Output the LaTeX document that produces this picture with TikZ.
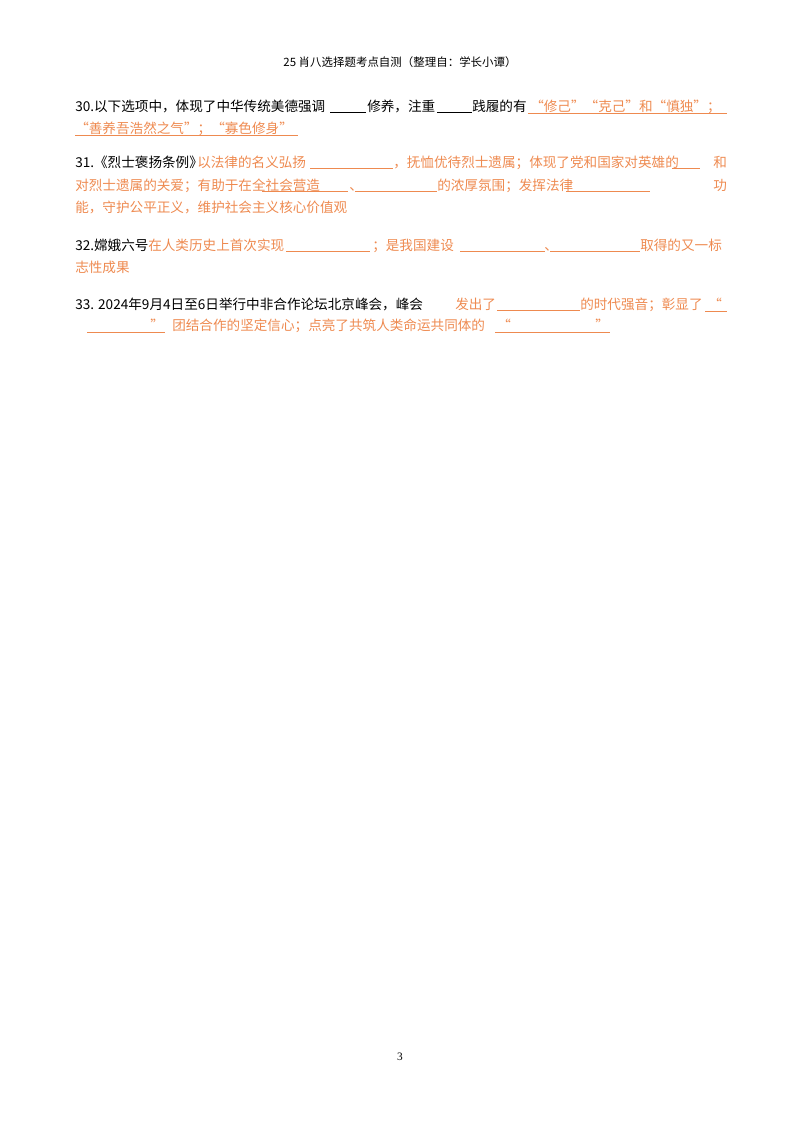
\documentclass[tikz,border=0pt]{standalone}
\usepackage{fontspec}
\setmainfont{Liberation Serif}
\newfontfamily\cjk{Noto Sans CJK SC}
\definecolor{ans}{HTML}{EE8A50}
\begin{document}
\begin{tikzpicture}[x=0.75pt,y=-0.75pt,
  t/.style={anchor=base west,inner sep=0pt,font=\fontsize{10.2}{12}\cjk},
  o/.style={t,text=ans},
  hd/.style={anchor=base,inner sep=0pt,font=\fontsize{8.6}{10}\cjk},
  bl/.style={line width=0.6pt,black},
  ob/.style={line width=0.6pt,ans}]
\useasboundingbox (0,0) rectangle (800,1132);
\node[hd] (h) at (400,66) {25 肖八选择题考点自测（整理自：学长小谭）};
% 30
\node[t] (a1) at (75,111) {30.以下选项中，体现了中华传统美德强调};
\draw[bl] (330,112) -- (366,112);
\node[t] (a2) at (367,111) {修养，注重};
\draw[bl] (437,112) -- (472,112);
\node[t] (a3) at (472,111) {践履的有};
\node[o] (a4) at (530,111) {“修己”“克己”和“慎独”；};
\draw[ob] (528,113) -- (727,113);
\node[o] (a5) at (75,133) {“善养吾浩然之气”；“寡色修身”};
\draw[ob] (75,135) -- (298,135);
% 31
\node[t] (b1) at (75,167) {31.《烈士褒扬条例》};
\node[o] (b2) at (197,167) {以法律的名义弘扬};
\draw[ob] (310,168) -- (393,168);
\node[o] (b3) at (393,167) {，抚恤优待烈士遗属；体现了党和国家对英雄的};
\draw[ob] (672,168) -- (700,168);
\node[o] (b4) at (713,167) {和};
\node[o] (b5) at (75,190) {对烈士遗属的关爱；有助于在全社会营造};
\draw[ob] (262,191) -- (348,191);
\node[o] (b6) at (349,190) {、};
\draw[ob] (355,191) -- (437,191);
\node[o] (b7) at (437,190) {的浓厚氛围；发挥法律};
\draw[ob] (566,191) -- (650,191);
\node[o] (b8) at (713,190) {功};
\node[o] (b9) at (75,212) {能，守护公平正义，维护社会主义核心价值观};
% 32
\node[t] (c1) at (75,250) {32.嫦娥六号};
\node[o] (c2) at (148,250) {在人类历史上首次实现};
\draw[ob] (286,251) -- (370,251);
\node[o] (c3) at (372,250) {；是我国建设};
\draw[ob] (460,251) -- (545,251);
\node[o] (c4) at (544,250) {、};
\draw[ob] (550,251) -- (640,251);
\node[o] (c5) at (640,250) {取得的又一标};
\node[o] (c6) at (75,272) {志性成果};
% 33
\node[t] (d1) at (75,309) {33. 2024年9月4日至6日举行中非合作论坛北京峰会，峰会};
\node[o] (d2) at (455,309) {发出了};
\draw[ob] (497,310) -- (580,310);
\node[o] (d3) at (580,309) {的时代强音；彰显了};
\node[o] (d4) at (708,309) {“};
\draw[ob] (705,311) -- (727,311);
\draw[ob] (87,332) -- (165,332);
\node[o] (d5) at (150,330) {”};
\node[o] (d6) at (172,330) {团结合作的坚定信心；点亮了共筑人类命运共同体的};
\draw[ob] (495,332) -- (610,332);
\node[o] (d7) at (497,330) {“};
\node[o] (d8) at (595,330) {”};
\node[anchor=base,inner sep=0pt,font=\fontsize{8.5}{10}\selectfont] (p) at (400,1060) {3};
\end{tikzpicture}
\end{document}
